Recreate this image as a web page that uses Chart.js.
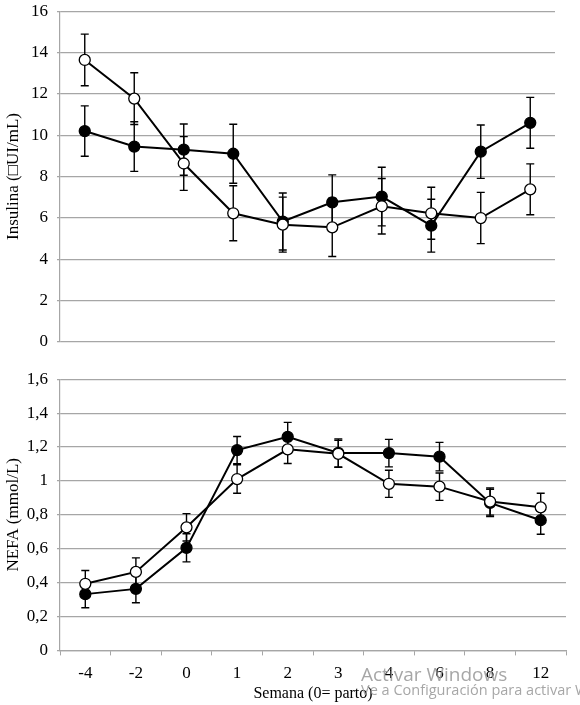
<!DOCTYPE html>
<html lang="es">
<head>
    <meta charset="UTF-8">
    <title>Insulina y NEFA</title>
    <style>
        html, body {
            margin: 0;
            padding: 0;
            background: #ffffff;
            overflow: hidden;
        }
        .wrap {
            position: relative;
            width: 580px;
            height: 705px;
            overflow: hidden;
        }
        .panel {
            position: absolute;
            left: 0;
            width: 580px;
        }
        #top { top: -8px; height: 369px; }
        #bottom { top: 360px; height: 353px; }
        .wm1 {
            position: absolute;
            left: 361px;
            top: 661px;
            font-family: 'Open Sans', sans-serif;
            font-size: 19px;
            color: rgba(150, 150, 150, 0.85);
            white-space: nowrap;
        }
        .wm2 {
            position: absolute;
            left: 361px;
            top: 680px;
            font-family: 'Open Sans', sans-serif;
            font-size: 14.5px;
            color: rgba(150, 150, 150, 0.85);
            white-space: nowrap;
        }
    </style>
</head>
<body>
    <div class="wrap">
        <div class="panel" id="top"><canvas id="insulinChart"></canvas></div>
        <div class="panel" id="bottom"><canvas id="nefaChart"></canvas></div>
        <div class="wm1">Activar Windows</div>
        <div class="wm2">Ve a Configuración para activar Windows.</div>
    </div>

    <script src="https://cdn.jsdelivr.net/npm/chart.js"></script>
    <script>
        // weeks relative to calving
        const weeks = ['-4', '-2', '0', '1', '2', '3', '4', '6', '8', '12'];

        // insulin (filled = group 1, open = group 2)
        const insulinFilled = [10.2, 9.45, 9.3, 9.1, 5.82, 6.75, 7.03, 5.62, 9.2, 10.6];
        const insulinFilledErr = [1.22, 1.2, 1.24, 1.43, 1.38, 1.33, 1.42, 1.28, 1.29, 1.23];
        const insulinOpen = [13.64, 11.77, 8.63, 6.22, 5.67, 5.54, 6.56, 6.22, 5.99, 7.38];
        const insulinOpenErr = [1.25, 1.25, 1.3, 1.33, 1.33, 1.41, 1.34, 1.26, 1.24, 1.23];

        // NEFA
        const nefaFilled = [0.332, 0.363, 0.605, 1.182, 1.26, 1.165, 1.164, 1.143, 0.87, 0.768];
        const nefaFilledErr = [0.08, 0.082, 0.083, 0.08, 0.085, 0.083, 0.081, 0.084, 0.08, 0.083];
        const nefaOpen = [0.393, 0.463, 0.726, 1.011, 1.186, 1.16, 0.983, 0.966, 0.878, 0.844];
        const nefaOpenErr = [0.078, 0.083, 0.081, 0.084, 0.083, 0.08, 0.08, 0.081, 0.08, 0.083];

        const serif = "'Liberation Serif', 'Times New Roman', serif";
        const gridGray = '#a6a6a6';

        // error bars drawn under the markers
        const errorBars = {
            id: 'errorBars',
            beforeDatasetsDraw(chart) {
                const ctx = chart.ctx;
                const yScale = chart.scales.y;
                ctx.save();
                ctx.strokeStyle = '#000';
                ctx.lineWidth = 1.4;
                chart.data.datasets.forEach((ds, i) => {
                    const meta = chart.getDatasetMeta(i);
                    meta.data.forEach((pt, j) => {
                        const v = ds.data[j];
                        const e = ds.errors[j];
                        const x = pt.x;
                        const yTop = yScale.getPixelForValue(v + e);
                        const yBot = yScale.getPixelForValue(v - e);
                        ctx.beginPath();
                        ctx.moveTo(x, yTop);
                        ctx.lineTo(x, yBot);
                        ctx.moveTo(x - 4, yTop);
                        ctx.lineTo(x + 4, yTop);
                        ctx.moveTo(x - 4, yBot);
                        ctx.lineTo(x + 4, yBot);
                        ctx.stroke();
                    });
                });
                ctx.restore();
            }
        };

        function makeDataset(values, errors, filled) {
            return {
                data: values,
                errors: errors,
                borderColor: '#000',
                borderWidth: 2,
                backgroundColor: filled ? '#000' : '#fff',
                pointBackgroundColor: filled ? '#000' : '#fff',
                pointBorderColor: '#000',
                pointBorderWidth: 1.3,
                pointRadius: 5.5,
                tension: 0
            };
        }

        function commaTick(v) {
            return Number(v.toFixed(1)).toString().replace('.', ',');
        }

        // top panel: insulin
        new Chart(document.getElementById('insulinChart'), {
            type: 'line',
            data: {
                labels: weeks,
                datasets: [
                    makeDataset(insulinOpen, insulinOpenErr, false),
                    makeDataset(insulinFilled, insulinFilledErr, true)
                ]
            },
            options: {
                responsive: true,
                maintainAspectRatio: false,
                animation: false,
                layout: { padding: { top: 4, right: 25, bottom: 4, left: 0 } },
                plugins: { legend: { display: false }, tooltip: { enabled: false } },
                scales: {
                    x: {
                        display: false,
                        offset: true
                    },
                    y: {
                        min: 0,
                        max: 16,
                        afterFit(scale) { scale.width = 60; },
                        ticks: {
                            stepSize: 2,
                            color: '#000',
                            padding: 9,
                            font: { family: serif, size: 17 }
                        },
                        grid: { color: gridGray, lineWidth: 1.2, tickLength: 3 },
                        border: { color: gridGray, width: 1.2 },
                        title: {
                            display: true,
                            text: 'Insulina (\u25A1UI/mL)',
                            color: '#000',
                            padding: { top: 3, bottom: 0 },
                            font: { family: serif, size: 17 }
                        }
                    }
                }
            },
            plugins: [errorBars]
        });

        // bottom panel: NEFA
        new Chart(document.getElementById('nefaChart'), {
            type: 'line',
            data: {
                labels: weeks,
                datasets: [
                    makeDataset(nefaOpen, nefaOpenErr, false),
                    makeDataset(nefaFilled, nefaFilledErr, true)
                ]
            },
            options: {
                responsive: true,
                maintainAspectRatio: false,
                animation: false,
                layout: { padding: { top: 8, right: 14, bottom: 2, left: 0 } },
                plugins: { legend: { display: false }, tooltip: { enabled: false } },
                scales: {
                    x: {
                        offset: true,
                        ticks: {
                            color: '#000',
                            padding: 8,
                            font: { family: serif, size: 17 }
                        },
                        grid: {
                            offset: true,
                            drawOnChartArea: false,
                            color: gridGray,
                            tickLength: 5
                        },
                        border: { color: gridGray, width: 1.2 },
                        title: {
                            display: true,
                            text: 'Semana (0= parto)',
                            color: '#000',
                            padding: { top: -8, bottom: 8 },
                            font: { family: serif, size: 16 }
                        }
                    },
                    y: {
                        min: 0,
                        max: 1.6,
                        afterFit(scale) { scale.width = 60; },
                        ticks: {
                            stepSize: 0.2,
                            color: '#000',
                            padding: 9,
                            font: { family: serif, size: 17 },
                            callback: (v) => commaTick(v)
                        },
                        grid: { color: gridGray, lineWidth: 1.2, tickLength: 3 },
                        border: { color: gridGray, width: 1.2 },
                        title: {
                            display: true,
                            text: 'NEFA (mmol/L)',
                            color: '#000',
                            padding: { top: 3, bottom: 0 },
                            font: { family: serif, size: 17 }
                        }
                    }
                }
            },
            plugins: [errorBars]
        });
    </script>
</body>
</html>
